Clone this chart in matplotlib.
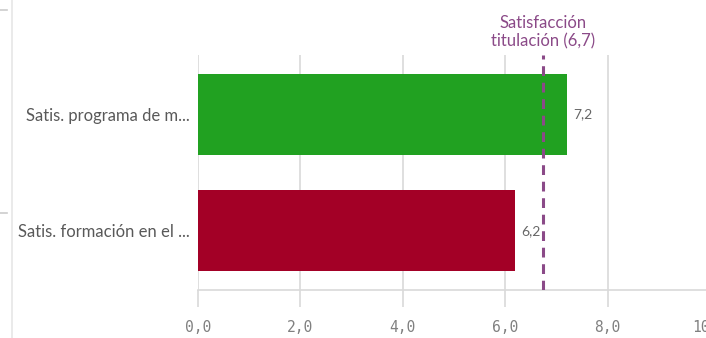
import matplotlib
matplotlib.use("Agg")
import matplotlib.pyplot as plt
from matplotlib.lines import Line2D

categories = ["Satis. programa de m...", "Satis. formación en el ..."]
values = [7.2, 6.2]
bar_colors = ["#21a121", "#a30026"]
ref_value = 6.74
ref_label = "Satisfacción\ntitulación (6,7)"
xticks = [0, 2, 4, 6, 8, 10]
xtick_labels = ["0,0", "2,0", "4,0", "6,0", "8,0", "10,0"]
value_labels = ["7,2", "6,2"]

W, H = 706, 338
fig = plt.figure(figsize=(W / 100, H / 100), dpi=100)
ax = fig.add_axes([198 / W, 1 - 290 / H, 512 / W, 235 / H])

grid_c = "#d9d9d9"
text_c = "#595959"
ypos = list(range(len(categories)))
ax.barh(ypos, values, height=0.70, color=bar_colors, zorder=2)
ax.set_xlim(0, 10)
ax.set_ylim(1.51, -0.51)

for t in xticks:
    ax.axvline(t, color=grid_c, lw=1.2, zorder=1)

for y, v, lab in zip(ypos, values, value_labels):
    ax.text(v + 0.12, y, lab, va="center", ha="left", fontsize=10,
            color="#666666", family="Lato", zorder=3)

ax.axvline(ref_value, color="#8b4a88", lw=2.2, ls=(0, (3.2, 2.2)), zorder=4)
ax.text(ref_value, -0.555, ref_label, ha="center", va="bottom", fontsize=12,
        color="#8b4a88", family="Lato", linespacing=1.2)

ax.set_xticks(xticks)
ax.set_xticklabels(xtick_labels, family="DejaVu Sans Mono", fontsize=10.5, color="#808080")
ax.tick_params(axis="x", length=12, color=grid_c, width=1.2, pad=9.5)
ax.set_yticks(ypos)
ax.set_yticklabels(categories, family="Lato", fontsize=12, color=text_c)
ax.tick_params(axis="y", length=0, pad=6)
for s in ["top", "right", "left"]:
    ax.spines[s].set_visible(False)
ax.spines["bottom"].set_color(grid_c)
ax.spines["bottom"].set_linewidth(1.2)

# outer decorations on the left
fig.add_artist(Line2D([12 / W, 12 / W], [0, 1], color="#e6e6e6", lw=1.2, transform=fig.transFigure))
for yy in [10, 213]:
    fig.add_artist(Line2D([0, 7 / W], [1 - yy / H, 1 - yy / H], color="#cccccc", lw=1.2, transform=fig.transFigure))

fig.savefig("out.png", dpi=100)
